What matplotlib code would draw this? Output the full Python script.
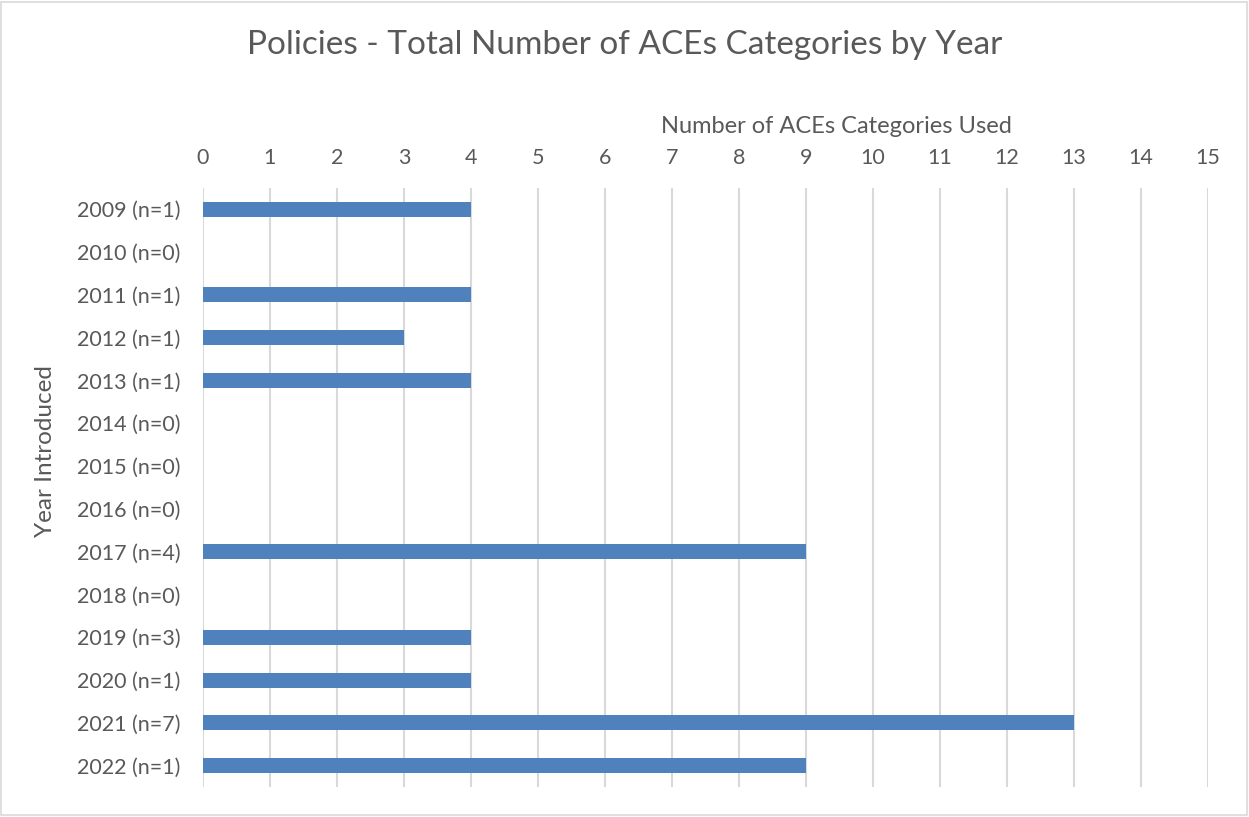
import matplotlib.pyplot as plt
from matplotlib.patches import Rectangle

years = ["2009 (n=1)", "2010 (n=0)", "2011 (n=1)", "2012 (n=1)", "2013 (n=1)",
         "2014 (n=0)", "2015 (n=0)", "2016 (n=0)", "2017 (n=4)", "2018 (n=0)",
         "2019 (n=3)", "2020 (n=1)", "2021 (n=7)", "2022 (n=1)"]
counts = [4, 0, 4, 3, 4, 0, 0, 0, 9, 0, 4, 4, 13, 9]
xticks = list(range(0, 16))

plt.rcParams['font.family'] = ['Lato', 'DejaVu Sans']
text_color = '#595959'

fig = plt.figure(figsize=(12.49, 8.17), dpi=100)
# light frame around the whole chart
fig.patches.append(Rectangle((0.001, 0.002), 0.997, 0.996, transform=fig.transFigure,
                             fill=False, edgecolor='#D9D9D9', linewidth=1.2))
ax = fig.add_axes([0.1625, 0.0367, 0.8045, 0.7333])

ax.barh(range(len(years)), counts, height=0.35, color='#4F81BD', zorder=3)
ax.set_xlim(0, 15)
ax.set_ylim(len(years) - 0.5, -0.5)
ax.set_xticks(xticks)
ax.set_yticks(range(len(years)))
ax.set_yticklabels(years)
ax.xaxis.tick_top()
ax.xaxis.set_label_position('top')
ax.grid(axis='x', color='#D9D9D9', linewidth=1.5, zorder=0)
ax.tick_params(length=0, labelsize=15.5, colors=text_color)
ax.tick_params(axis='x', pad=14.5)
ax.tick_params(axis='y', pad=16)
for s in ax.spines.values():
    s.set_visible(False)

ax.set_xlabel("Number of ACEs Categories Used", fontsize=17, color=text_color,
              va='center', ha='center')
ax.xaxis.set_label_coords(0.63, 1.102)
ax.set_ylabel("Year Introduced", fontsize=17.5, color=text_color,
              va='center', ha='center')
ax.yaxis.set_label_coords(-0.157, 0.56)
fig.text(0.5, 0.945, "Policies - Total Number of ACEs Categories by Year",
         ha='center', va='center', fontsize=24, color=text_color)

fig.savefig("out.png", dpi=100)
